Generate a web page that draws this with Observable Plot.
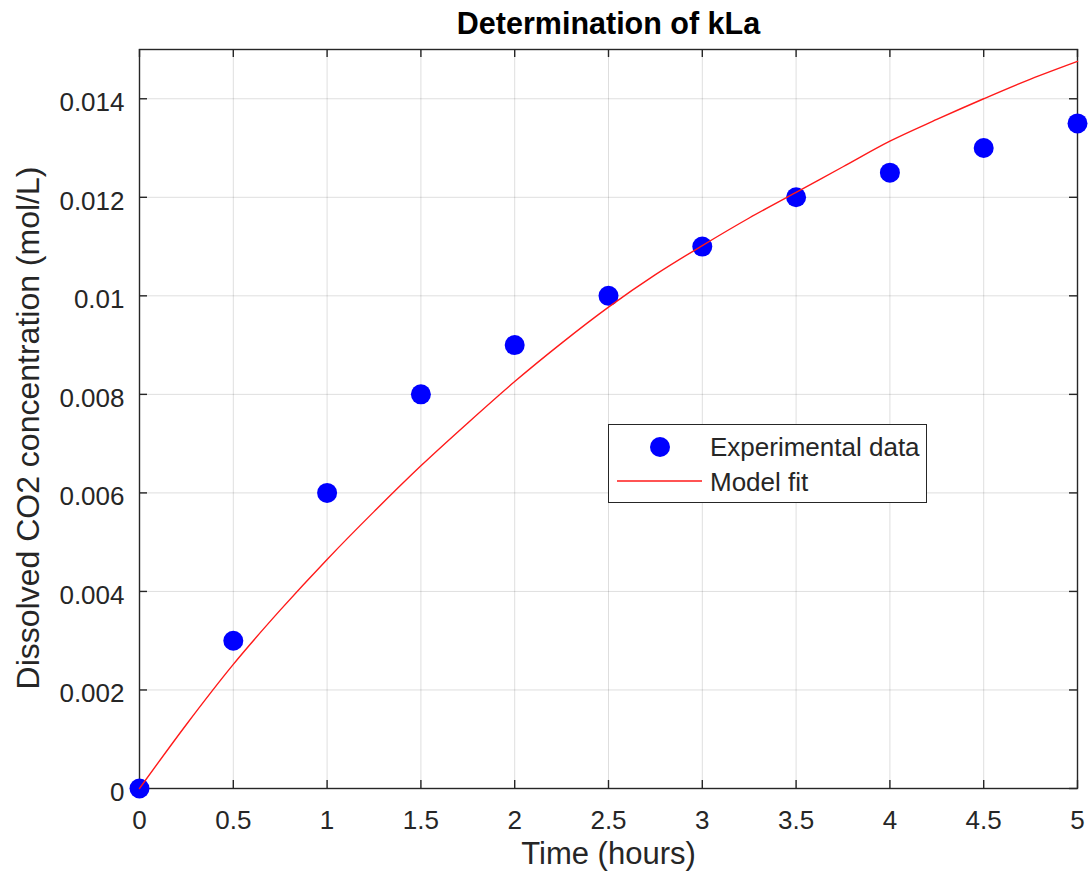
<!DOCTYPE html>
<html>
<head>
<meta charset="utf-8">
<script src="https://cdn.jsdelivr.net/npm/d3@7"></script>
<script src="https://cdn.jsdelivr.net/npm/@observablehq/plot@0.6"></script>
<style>
  html, body { margin: 0; padding: 0; background: #fff; }
  #wrap { position: relative; width: 1089px; height: 879px; font-family: "Liberation Sans", Arial, sans-serif; }
  #legend { position: absolute; left: 608px; top: 424px; width: 317px; height: 77px; border: 1px solid #262626; background: #fff; }
</style>
</head>
<body>
<div id="wrap"></div>
<script>
// ---- data ----
const timeHours = [0, 0.5, 1, 1.5, 2, 2.5, 3, 3.5, 4, 4.5, 5];
const co2Measured = [0, 0.003, 0.006, 0.008, 0.009, 0.010, 0.011, 0.012, 0.0125, 0.013, 0.0135];

const fitTime = [0, 0.25, 0.5, 0.75, 1, 1.25, 1.5, 1.75, 2, 2.25, 2.5, 2.75, 3, 3.25, 3.5, 3.75, 4, 4.25, 4.5, 4.75, 5];
const fitCo2 = [0, 0.00130, 0.00252, 0.00362, 0.00465, 0.00562, 0.00655, 0.00742, 0.00826, 0.00904, 0.00977,
                0.01043, 0.01102, 0.01158, 0.01210, 0.01262, 0.01314, 0.01358, 0.01400, 0.01440, 0.01476];

const xTicks = [0, 0.5, 1, 1.5, 2, 2.5, 3, 3.5, 4, 4.5, 5];
const xTickLabels = ["0", "0.5", "1", "1.5", "2", "2.5", "3", "3.5", "4", "4.5", "5"];
const yTicks = [0, 0.002, 0.004, 0.006, 0.008, 0.010, 0.012, 0.014];
const yTickLabels = ["0", "0.002", "0.004", "0.006", "0.008", "0.01", "0.012", "0.014"];

const titleText = "Determination of kLa";
const xLabelText = "Time (hours)";
const yLabelText = "Dissolved CO2 concentration (mol/L)";
const legendLabels = ["Experimental data", "Model fit"];

// ---- build tables ----
const measured = timeHours.map((t, i) => ({t, c: co2Measured[i]}));
const fit = fitTime.map((t, i) => ({t, c: fitCo2[i]}));

const W = 1089, H = 879;
const mL = 139, mT = 49, mR = 12, mB = 91;
const fw = W - mL - mR, fh = H - mT - mB;
const tickLen = 8;
const txt = "#262626";

const chart = Plot.plot({
  width: W, height: H,
  marginLeft: mL, marginTop: mT, marginRight: mR, marginBottom: mB,
  style: {fontFamily: '"Liberation Sans", Arial, sans-serif', background: "#fff", color: txt, overflow: "visible"},
  x: {domain: [0, 5], label: null},
  y: {domain: [0, 0.015], label: null},
  marks: [
    Plot.gridX(xTicks, {stroke: "#000", strokeOpacity: 0.13, strokeWidth: 1}),
    Plot.gridY(yTicks, {stroke: "#000", strokeOpacity: 0.13, strokeWidth: 1}),
    Plot.frame({stroke: txt, strokeWidth: 1.4}),
    // inward ticks on all four sides
    Plot.tickX(xTicks, {x: d => d, stroke: txt, strokeWidth: 1.4, insetTop: fh - tickLen}),
    Plot.tickX(xTicks, {x: d => d, stroke: txt, strokeWidth: 1.4, insetBottom: fh - tickLen}),
    Plot.tickY(yTicks, {y: d => d, stroke: txt, strokeWidth: 1.4, insetRight: fw - tickLen}),
    Plot.tickY(yTicks, {y: d => d, stroke: txt, strokeWidth: 1.4, insetLeft: fw - tickLen}),
    Plot.axisX(xTicks, {anchor: "bottom", tickSize: 0, tickPadding: 22, fontSize: 26, fill: txt,
      tickFormat: d => xTickLabels[xTicks.indexOf(d)], label: null}),
    Plot.axisY(yTicks, {anchor: "left", tickSize: 0, tickPadding: 15, dy: 4, fontSize: 26, fill: txt,
      tickFormat: d => yTickLabels[yTicks.indexOf(d)], label: null}),
    Plot.dot(measured, {x: "t", y: "c", r: 10, fill: "#0000ff", stroke: "none"}),
    Plot.line(fit, {x: "t", y: "c", stroke: "#ff1a1a", strokeWidth: 1.4, curve: "catmull-rom"}),
    Plot.text([titleText], {text: d => d, frameAnchor: "top", dy: -16, lineAnchor: "bottom",
      fontSize: 30.5, fontWeight: "bold", fill: "#000"}),
    Plot.text([xLabelText], {text: d => d, frameAnchor: "bottom", dy: 75, lineAnchor: "bottom",
      fontSize: 31, fill: txt}),
    Plot.text([yLabelText], {text: d => d, frameAnchor: "left", textAnchor: "middle", rotate: -90, dx: -111, dy: 9,
      lineAnchor: "middle", fontSize: 32, fill: txt})
  ]
});

const wrap = document.getElementById("wrap");
wrap.appendChild(chart);

// legend
const legend = document.createElement("div");
legend.id = "legend";
legend.innerHTML = `
<svg width="317" height="77" style="display:block;font-family:'Liberation Sans', Arial, sans-serif">
  <circle cx="51" cy="22" r="10" fill="#0000ff"></circle>
  <text x="101" y="31" font-size="26" fill="${txt}">${legendLabels[0]}</text>
  <line x1="8" x2="93" y1="56" y2="56" stroke="#ff1a1a" stroke-width="1.4"></line>
  <text x="101" y="66" font-size="26" fill="${txt}">${legendLabels[1]}</text>
</svg>`;
wrap.appendChild(legend);
</script>
</body>
</html>
